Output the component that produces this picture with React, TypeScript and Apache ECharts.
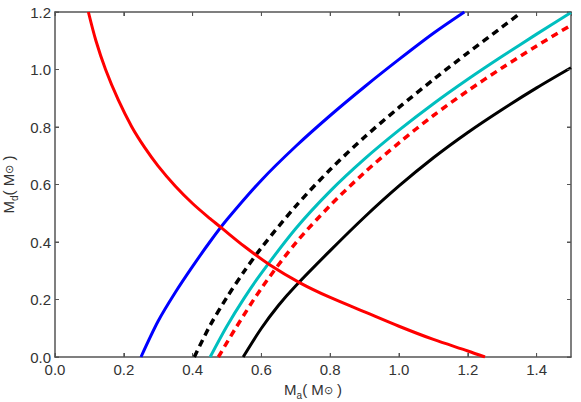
import React, { useEffect, useRef } from "react";
import * as echarts from "echarts";

const xTicks = [0, 0.2, 0.4, 0.6, 0.8, 1.0, 1.2, 1.4];
const yTicks = [0, 0.2, 0.4, 0.6, 0.8, 1.0, 1.2];

const blueSolid = [
  [0.25, 0], [0.3, 0.125], [0.35, 0.225], [0.4, 0.315], [0.45, 0.4], [0.5, 0.478], [0.6, 0.615],
  [0.7, 0.733], [0.8, 0.84], [0.9, 0.94], [1.0, 1.035], [1.1, 1.126], [1.19, 1.2],
];
const blackDashed = [
  [0.405, 0], [0.45, 0.108], [0.5, 0.208], [0.55, 0.298], [0.6, 0.38], [0.7, 0.525], [0.8, 0.652],
  [0.9, 0.765], [1.0, 0.868], [1.1, 0.965], [1.2, 1.058], [1.3, 1.148], [1.355, 1.198],
];
const cyanSolid = [
  [0.451, 0], [0.5, 0.108], [0.55, 0.205], [0.6, 0.292], [0.7, 0.447], [0.8, 0.577], [0.9, 0.689],
  [1.0, 0.789], [1.1, 0.881], [1.2, 0.966], [1.3, 1.046], [1.4, 1.123], [1.5, 1.198],
];
const redDashed = [
  [0.475, 0], [0.525, 0.1], [0.6, 0.239], [0.7, 0.397], [0.8, 0.527], [0.9, 0.642],
  [1.0, 0.745], [1.1, 0.84], [1.2, 0.926], [1.3, 1.006], [1.4, 1.082], [1.5, 1.154],
];
const blackSolid = [
  [0.547, 0], [0.6, 0.1], [0.65, 0.18], [0.7, 0.248], [0.8, 0.37], [0.9, 0.487], [1.0, 0.595],
  [1.1, 0.693], [1.2, 0.781], [1.3, 0.861], [1.4, 0.936], [1.5, 1.006],
];
const redSolid = [
  [0.097, 1.2], [0.119, 1.1], [0.147, 1.0], [0.184, 0.894], [0.223, 0.801], [0.26, 0.73],
  [0.3, 0.664], [0.35, 0.594], [0.4, 0.534], [0.45, 0.482], [0.485, 0.448], [0.55, 0.385],
  [0.625, 0.32], [0.712, 0.258], [0.8, 0.207], [0.9, 0.157], [1.0, 0.107], [1.1, 0.061],
  [1.2, 0.021], [1.25, 0],
];

const axisColor = "#555555";
const tickColor = "#555555";
const labelColor = "#333333";
const fontFamily = "Liberation Sans, Arial, sans-serif";
const tickLen = 4;

export default function App() {
  const ref = useRef<HTMLDivElement>(null);
  useEffect(() => {
    if (!ref.current) return;
    const chart = echarts.init(ref.current, undefined, { renderer: "svg" });
    const lineAxis = () => ({ show: true, onZero: false, lineStyle: { color: axisColor, width: 1.5 } });
    const tick = () => ({ show: true, inside: true, length: tickLen, lineStyle: { color: tickColor, width: 1 } });
    const nameRich = {
      m: { fontSize: 15, color: labelColor, fontFamily },
      s: { fontSize: 10, color: labelColor, fontFamily, padding: [11, 0, 0, 0] },
      o: { fontSize: 11, color: labelColor, fontFamily },
    };
    const mk = (name: string, data: number[][], color: string, dashed: boolean) => ({
      name,
      type: "line",
      data,
      showSymbol: false,
      smooth: 0.3,
      clip: true,
      lineStyle: { color, width: dashed ? 3.5 : 3, type: dashed ? [7, 5] : "solid", cap: "butt" },
    });
    chart.setOption({
      animation: false,
      backgroundColor: "#ffffff",
      grid: { left: 55, right: 10, top: 12, bottom: 45, containLabel: false, outerBoundsMode: "none" },
      xAxis: [
        {
          type: "value",
          min: 0,
          max: 1.5,
          interval: 0.2,
          position: "bottom",
          axisLine: lineAxis(),
          axisTick: tick(),
          splitLine: { show: false },
          axisLabel: {
            showMaxLabel: false,
            color: labelColor,
            fontSize: 15,
            fontFamily,
            margin: 5,
            formatter: (v: number) => (xTicks.some((t) => Math.abs(t - v) < 1e-6) ? v.toFixed(1) : ""),
          },
          name: "{m|M}{s|a}{m|( M}{o|⊙}{m| )}",
          nameLocation: "middle",
          nameGap: 22,
          nameTextStyle: { rich: nameRich },
        },
        {
          type: "value",
          min: 0,
          max: 1.5,
          interval: 0.2,
          position: "top",
          axisLine: lineAxis(),
          axisTick: tick(),
          axisLabel: { show: false },
          splitLine: { show: false },
        },
      ],
      yAxis: [
        {
          type: "value",
          min: 0,
          max: 1.2,
          interval: 0.2,
          position: "left",
          axisLine: lineAxis(),
          axisTick: tick(),
          splitLine: { show: false },
          axisLabel: {
            color: labelColor,
            fontSize: 15,
            fontFamily,
            margin: 4,
            formatter: (v: number) => (yTicks.some((t) => Math.abs(t - v) < 1e-6) ? v.toFixed(1) : ""),
          },
          name: "{m|M}{s|d}{m|( M}{o|⊙}{m| )}",
          nameLocation: "middle",
          nameGap: 34,
          nameTextStyle: { rich: nameRich },
        },
        {
          type: "value",
          min: 0,
          max: 1.2,
          interval: 0.2,
          position: "right",
          axisLine: lineAxis(),
          axisTick: tick(),
          axisLabel: { show: false },
          splitLine: { show: false },
        },
      ],
      series: [
        mk("blue", blueSolid, "#0000ff", false),
        mk("black dashed", blackDashed, "#000000", true),
        mk("cyan", cyanSolid, "#00bfbf", false),
        mk("red dashed", redDashed, "#ff0000", true),
        mk("black", blackSolid, "#000000", false),
        mk("red", redSolid, "#ff0000", false),
      ],
    });

    // Tick marks on all four sides, positioned through the chart's own scales.
    try {
      const finder = { xAxisIndex: 0, yAxisIndex: 0 };
      const p0 = chart.convertToPixel(finder, [0, 0]) as number[];
      const p1 = chart.convertToPixel(finder, [1.5, 1.2]) as number[];
      const elements: any[] = [];
      xTicks.forEach((v) => {
        const px = (chart.convertToPixel(finder, [v, 0]) as number[])[0];
        elements.push({ type: "rect", z: 100, silent: true, shape: { x: px - 0.5, y: p0[1] - tickLen, width: 1, height: tickLen }, style: { fill: tickColor } });
        elements.push({ type: "rect", z: 100, silent: true, shape: { x: px - 0.5, y: p1[1], width: 1, height: tickLen }, style: { fill: tickColor } });
      });
      yTicks.forEach((v) => {
        const py = (chart.convertToPixel(finder, [0, v]) as number[])[1];
        elements.push({ type: "rect", z: 100, silent: true, shape: { x: p0[0], y: py - 0.5, width: tickLen, height: 1 }, style: { fill: tickColor } });
        elements.push({ type: "rect", z: 100, silent: true, shape: { x: p1[0] - tickLen, y: py - 0.5, width: tickLen, height: 1 }, style: { fill: tickColor } });
      });
      chart.setOption({ graphic: { elements } });
    } catch (e) {
      console.error(e);
    }

    return () => chart.dispose();
  }, []);
  return (
    <div
      ref={ref}
      style={{ position: "fixed", left: 0, top: 0, width: 581, height: 402, background: "#fff" }}
    />
  );
}
